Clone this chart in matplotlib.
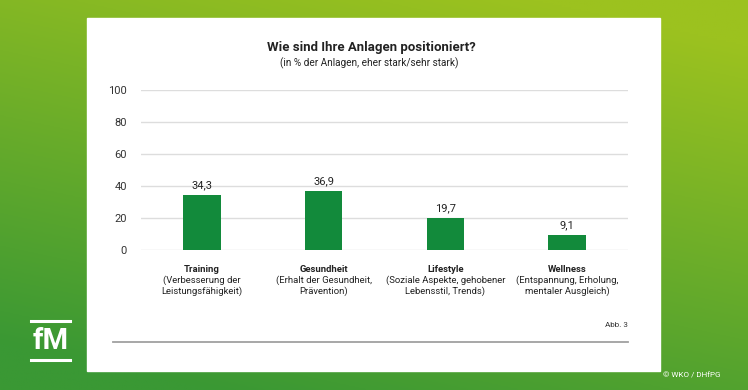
import numpy as np
from matplotlib import pyplot as plt
from matplotlib.colors import to_rgb

categories = ["Training", "Gesundheit", "Lifestyle", "Wellness"]
descriptions = [
    "(Verbesserung der\nLeistungsfähigkeit)",
    "(Erhalt der Gesundheit,\nPrävention)",
    "(Soziale Aspekte, gehobener\nLebensstil, Trends)",
    "(Entspannung, Erholung,\nmentaler Ausgleich)",
]
values = [34.3, 36.9, 19.7, 9.1]
yticks = [0, 20, 40, 60, 80, 100]

W, H = 748, 390
fig = plt.figure(figsize=(W / 100, H / 100), dpi=100)

# green gradient background
bg = fig.add_axes([0, 0, 1, 1])
yy, xx = np.mgrid[0:1:200j, 0:1:400j]
top = np.array(to_rgb("#9cc21f"))
bottom = np.array(to_rgb("#3a9834"))
t = np.clip(yy * 0.85 + (1 - xx) * 0.35 - 0.1, 0, 1)[..., None]
img = top * (1 - t) + bottom * t
bg.imshow(img, aspect="auto", extent=[0, W, H, 0])
bg.set_xlim(0, W)
bg.set_ylim(H, 0)
bg.axis("off")

# white panel
bg.add_patch(plt.Rectangle((87, 18), 573, 353, color="white", zorder=2))

font = "Roboto"
bg.text(371, 47, "Wie sind Ihre Anlagen positioniert?", ha="center", va="center",
        fontsize=9.5, fontweight="bold", color="#222222", family=font, zorder=3)
bg.text(369, 63, "(in % der Anlagen, eher stark/sehr stark)", ha="center", va="center",
        fontsize=7.2, color="#222222", family=font, zorder=3)

bg.text(628, 325, "Abb. 3", ha="right", va="center", fontsize=5.8, color="#333333",
        family=font, zorder=3)
bg.plot([113, 628], [342, 342], color="#a0a0a0", lw=1.3, zorder=3)

# logo
bg.plot([31, 70], [321, 321], color="white", lw=2.2, zorder=3)
bg.plot([31, 70], [360, 360], color="white", lw=2.2, zorder=3)
bg.text(50.5, 341, "fM", ha="center", va="center", fontsize=21, fontweight="bold",
        color="white", family=font, zorder=3)
bg.text(721, 375, "© WKO / DHfPG", ha="right", va="center", fontsize=5.8, color="white",
        family=font, zorder=3)

# chart axes: x 141..628, y 90..250 px
ax = fig.add_axes([141 / W, 1 - 250 / H, (628 - 141) / W, 160 / H])
ax.set_facecolor("none")
x = np.arange(len(categories))
ax.bar(x, values, width=0.31, color="#128a3b", zorder=3)
for xi, v in zip(x, values):
    ax.text(xi, v + 3, f"{v:.1f}".replace(".", ","), ha="center", va="bottom",
            fontsize=8, color="#222222", family=font)
ax.set_xlim(-0.5, 3.5)
ax.set_ylim(0, 100)
ax.set_yticks(yticks)
ax.set_yticklabels([str(v) for v in yticks], fontsize=8, color="#333333", family=font)
ax.tick_params(axis="y", length=0, pad=10)
ax.set_xticks([])
ax.grid(axis="y", color="#dddddd", lw=1)
for s in ax.spines.values():
    s.set_visible(False)

for xi, name, desc in zip(x, categories, descriptions):
    ax.annotate(name, (xi, 0), xytext=(0, -19), textcoords="offset pixels", ha="center",
                va="center", fontsize=6.8, fontweight="bold", color="#222222", family=font)
    ax.annotate(desc, (xi, 0), xytext=(0, -36), textcoords="offset pixels", ha="center",
                va="center", fontsize=6.8, color="#222222", family=font, linespacing=1.2)

fig.savefig("out.png", dpi=100)
